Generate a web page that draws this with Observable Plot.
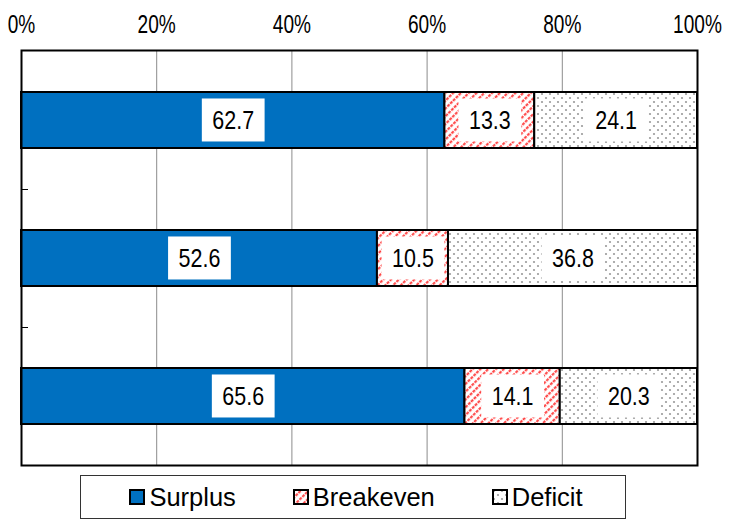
<!DOCTYPE html>
<html><head><meta charset="utf-8">
<script src="https://cdn.jsdelivr.net/npm/d3@7"></script>
<script src="https://cdn.jsdelivr.net/npm/@observablehq/plot@0.6"></script>
<style>
body{margin:0;background:#fff;}
#legend{box-sizing:border-box;margin:5px 0 0 80px;width:546px;height:44px;border:1px solid #333;display:flex;justify-content:center;align-items:center;gap:57px;font:25.5px "Liberation Sans",Arial,sans-serif;color:#000;padding-left:6px;}
#legend .item{display:flex;align-items:center;gap:4px;}
#legend svg{display:block;}
</style></head><body>
<svg width="0" height="0" style="position:absolute"><defs>
<pattern id="hatch" patternUnits="userSpaceOnUse" width="5.5" height="8" patternTransform="rotate(45)">
<rect width="5.5" height="8" fill="#fff"/>
<line x1="1.2" y1="0" x2="1.2" y2="8" stroke="#ff3b3b" stroke-width="2" stroke-dasharray="3 1"/>
</pattern>
<pattern id="dots" patternUnits="userSpaceOnUse" width="8" height="8">
<rect width="8" height="8" fill="#fff"/>
<circle cx="2" cy="2" r="1.1" fill="#9a9a9a"/><circle cx="6" cy="6" r="1.1" fill="#9a9a9a"/>
</pattern></defs></svg>
<div id="chart"></div>
<div id="legend"></div>
<script>
const categories = ["1", "2", "3"];
const types = ["Surplus", "Breakeven", "Deficit"];
const surplus = [62.7, 52.6, 65.6];
const breakeven = [13.3, 10.5, 14.1];
const deficit = [24.1, 36.8, 20.3];
const xTicks = [0, 0.2, 0.4, 0.6, 0.8, 1];
const gridTicks = [0.2, 0.4, 0.6, 0.8];
const fills = {Surplus: "#0070c0", Breakeven: "url(#hatch)", Deficit: "url(#dots)"};

const series = {Surplus: surplus, Breakeven: breakeven, Deficit: deficit};
const data = categories.flatMap((c, i) => types.map(t => ({cat: c, type: t, value: series[t][i]})));

const sans = '"Liberation Sans",Arial,sans-serif';

const boundaryTicks = (index, scales, values, dim) => {
  const y = scales.y;
  const g = d3.create("svg:g").attr("stroke", "#000").attr("stroke-width", 1);
  const bw = y.bandwidth ? y.bandwidth() : 0;
  for (let i = 1; i < categories.length; i++) {
    const yy = Math.round((y(categories[i - 1]) + bw + y(categories[i])) / 2) + 0.5;
    g.append("line").attr("x1", dim.marginLeft).attr("x2", dim.marginLeft + 7).attr("y1", yy).attr("y2", yy);
  }
  return g.node();
};

const chart = Plot.plot({
  width: 730,
  height: 470,
  marginLeft: 21,
  marginRight: 33,
  marginTop: 50,
  marginBottom: 5,
  style: {fontFamily: sans, background: "#fff", color: "#000", overflow: "visible"},
  x: {domain: [0, 1], ticks: xTicks, label: null},
  y: {domain: categories, paddingInner: 0.596, paddingOuter: 0.298, axis: null},
  marks: [
    Plot.gridX(gridTicks, {stroke: "#8c8c8c", strokeOpacity: 1, strokeWidth: 1}),
    Plot.barX(data, Plot.stackX({x: "value", y: "cat", z: "type", offset: "normalize",
      fill: d => fills[d.type], stroke: "#000", strokeWidth: 2})),
    Plot.text(data, Plot.stackX({x: "value", y: "cat", z: "type", offset: "normalize",
      text: d => d.value.toFixed(1), fill: "#000", fontSize: 26.5, fontFamily: sans})),
    Plot.axisX({anchor: "top", ticks: xTicks, tickSize: 0, tickPadding: 18, tickFormat: d3.format(".0%"),
      fontSize: 26.5, fontFamily: sans, label: null}),
    boundaryTicks,
    Plot.frame({stroke: "#000", strokeWidth: 2})
  ]
});
document.getElementById("chart").appendChild(chart);

const ns = "http://www.w3.org/2000/svg";
function squeeze(t, s) {
  const b = t.getBBox();
  const cx = b.x + b.width / 2;
  const tr = t.getAttribute("transform") || "";
  t.setAttribute("transform", `${tr} translate(${cx},0) scale(${s},1) translate(${-cx},0)`);
  return {b, cx, tr};
}

// narrow tick labels
chart.querySelectorAll('g[aria-label="x-axis tick label"] text').forEach(t => squeeze(t, 0.72));

// value labels: narrow + white boxes
chart.querySelectorAll('g[aria-label="text"] text').forEach(t => {
  const {b, cx, tr} = squeeze(t, 0.81);
  const w = b.width * 0.81 + 21;
  const r = document.createElementNS(ns, "rect");
  const cy = b.y + b.height / 2;
  r.setAttribute("x", cx - w / 2);
  r.setAttribute("width", w);
  r.setAttribute("y", cy - 21.5);
  r.setAttribute("height", 43);
  r.setAttribute("fill", "#fff");
  r.setAttribute("stroke", "none");
  if (tr) r.setAttribute("transform", tr);
  t.parentNode.insertBefore(r, t);
});

// legend
const legend = d3.select("#legend");
types.forEach(t => {
  const it = legend.append("div").attr("class", "item");
  const s = it.append("svg").attr("width", 16).attr("height", 16);
  s.append("rect").attr("x", 1).attr("y", 1).attr("width", 14).attr("height", 14)
    .attr("fill", fills[t]).attr("stroke", "#000").attr("stroke-width", 2);
  it.append("span").text(t);
});
</script>
</body></html>
